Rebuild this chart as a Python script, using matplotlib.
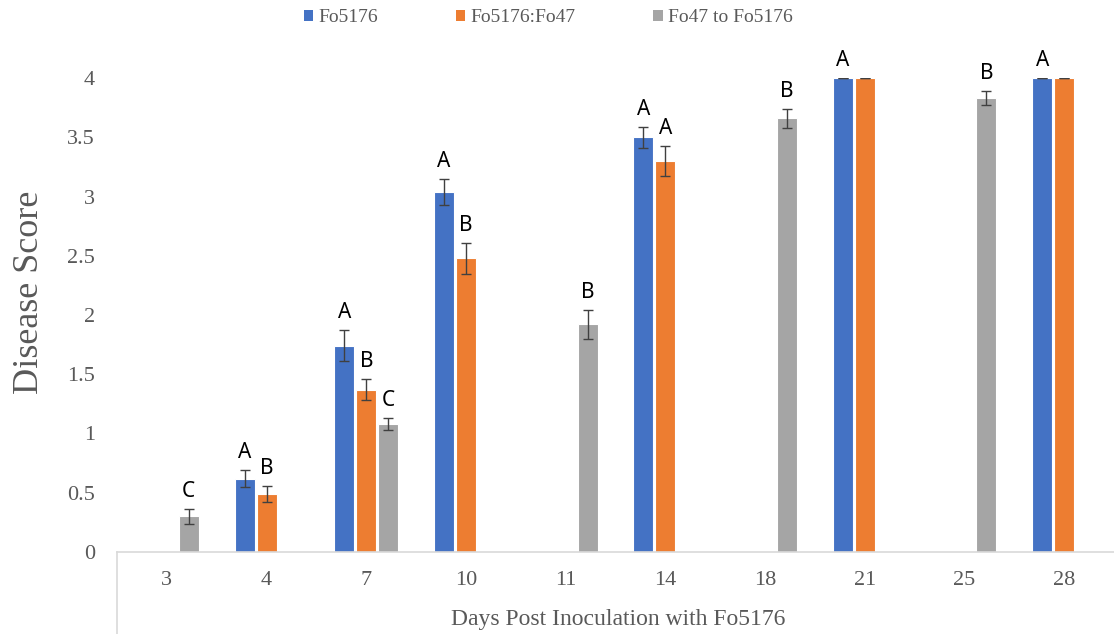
import numpy as np
import matplotlib
matplotlib.use("Agg")
import matplotlib.pyplot as plt
from matplotlib.patches import Patch

categories = ["3", "4", "7", "10", "11", "14", "18", "21", "25", "28"]
series_names = ["Fo5176", "Fo5176:Fo47", "Fo47 to Fo5176"]
colors = ["#4472C4", "#ED7D31", "#A5A5A5"]

nan = np.nan
fo5176 = [nan, 0.62, 1.74, 3.04, nan, 3.50, nan, 4.00, nan, 4.00]
fo5176_fo47 = [nan, 0.49, 1.37, 2.48, nan, 3.30, nan, 4.00, nan, 4.00]
fo47_to_fo5176 = [0.30, nan, 1.08, nan, 1.92, nan, 3.66, nan, 3.83, nan]

err_fo5176 = [nan, 0.07, 0.13, 0.11, nan, 0.09, nan, 0.0, nan, 0.0]
err_fo5176_fo47 = [nan, 0.07, 0.09, 0.13, nan, 0.13, nan, 0.0, nan, 0.0]
err_fo47_to_fo5176 = [0.06, nan, 0.05, nan, 0.12, nan, 0.08, nan, 0.06, nan]

lab_fo5176 = ["", "A", "A", "A", "", "A", "", "A", "", "A"]
lab_fo5176_fo47 = ["", "B", "B", "B", "", "A", "", "", "", ""]
lab_fo47_to_fo5176 = ["C", "", "C", "", "B", "", "B", "", "B", ""]

values = [fo5176, fo5176_fo47, fo47_to_fo5176]
errors = [err_fo5176, err_fo5176_fo47, err_fo47_to_fo5176]
letters = [lab_fo5176, lab_fo5176_fo47, lab_fo47_to_fo5176]

fig = plt.figure(figsize=(11.14, 6.34), dpi=100)
ax = fig.add_axes([117/1114, (634-552)/634, (1114-117)/1114, (552-78)/634])

x = np.arange(len(categories))
step = 0.22
width = 0.2
offsets = [-step, 0, step]

for vals, errs, labs, col, off in zip(values, errors, letters, colors, offsets):
    v = np.array(vals, dtype=float)
    e = np.array(errs, dtype=float)
    m = ~np.isnan(v)
    ax.bar(x[m] + off, v[m], width=width, color=col, edgecolor="white", linewidth=0.8, zorder=2)
    ax.errorbar(x[m] + off, v[m], yerr=e[m], fmt="none", ecolor="#404040",
                elinewidth=1.0, capsize=3.5, capthick=1.0, zorder=3)
    for xi, vi, ei, li in zip(x[m] + off, v[m], e[m], np.array(labs)[m]):
        if li:
            ax.annotate(li, (xi, vi + ei), xytext=(0, 5), textcoords="offset points",
                        ha="center", va="bottom", fontsize=15, family="Noto Sans",
                        color="black", annotation_clip=False)

ax.set_xlim(-0.5, len(categories) - 0.5)
ax.set_ylim(0, 4)
ax.set_yticks([0, 0.5, 1, 1.5, 2, 2.5, 3, 3.5, 4])
ax.set_yticklabels(["0", "0.5", "1", "1.5", "2", "2.5", "3", "3.5", "4"])
ax.set_xticks(x)
ax.set_xticklabels(categories)

for s in ["top", "right", "left"]:
    ax.spines[s].set_visible(False)
ax.spines["bottom"].set_color("#d9d9d9")
ax.spines["bottom"].set_linewidth(1.2)
ax.plot([0, 0], [0, -82/474], transform=ax.transAxes, color="#d9d9d9",
        linewidth=1.2, clip_on=False)

ax.tick_params(axis="x", length=0, pad=14, labelsize=16, labelcolor="#595959")
ax.tick_params(axis="y", length=0, pad=16, labelsize=16, labelcolor="#595959")
for t in ax.get_xticklabels() + ax.get_yticklabels():
    t.set_family("Liberation Serif")

fig.text(30/1114, 1 - 292/634, "Disease Score", rotation=90, ha="center", va="center",
         fontsize=26, family="Liberation Serif", color="#595959")
fig.text(618/1114, 1 - 620/634, "Days Post Inoculation with Fo5176", ha="center", va="center",
         fontsize=17, family="Liberation Serif", color="#595959")

handles = [Patch(facecolor=c, edgecolor="none") for c in colors]
leg = fig.legend(handles, series_names, loc="center", bbox_to_anchor=(548/1114, 1 - 18/634),
                 ncol=3, frameon=False, handlelength=0.5, handleheight=0.5,
                 handletextpad=0.25, columnspacing=4.0,
                 prop={"family": "Liberation Serif", "size": 14})
for t in leg.get_texts():
    t.set_color("#595959")

fig.savefig("out.png", dpi=100)
